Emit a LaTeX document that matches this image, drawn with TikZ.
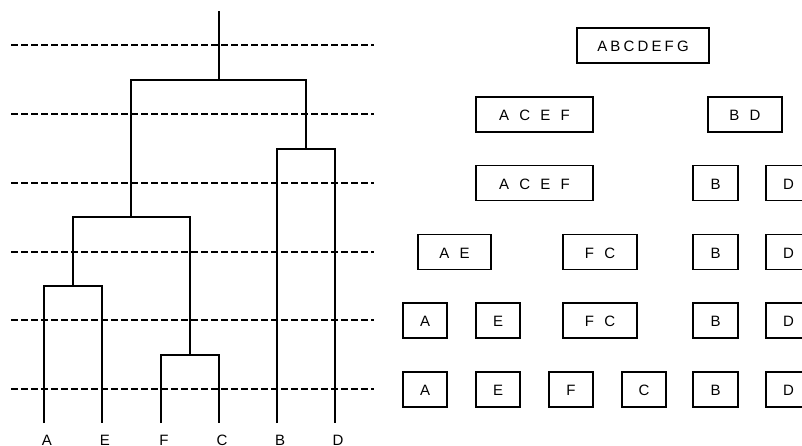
\documentclass[tikz,border=0pt]{standalone}
\usepackage{fontspec}
\setmainfont{Liberation Sans}
\newfontfamily\spacedfont[LetterSpace=21,WordSpace=1.4]{Liberation Sans}
\begin{document}
\begin{tikzpicture}[x=1pt,y=-1pt,
  level/.style={line width=1.5pt,dash pattern=on 7pt off 3pt},
  branch/.style={line width=1.4pt,line join=miter},
  cluster/.style={draw,line width=1.3pt,minimum height=35pt,inner sep=0pt,
    font=\spacedfont\fontsize{15}{18}\selectfont,text height=12.9pt,text depth=0pt},
  leaf/.style={anchor=base,font=\spacedfont\fontsize{15}{18}\selectfont,inner sep=0pt}]
\useasboundingbox (0,0) rectangle (802,446);

% cut levels
\foreach \yy in {45,114,183,252,320,389}
  \draw[level] (11,\yy) -- (374,\yy);

% dendrogram: leaves and merge points
\coordinate (a) at (44,423);
\coordinate (e) at (102,423);
\coordinate (f) at (161,423);
\coordinate (c) at (219,423);
\coordinate (b) at (277,423);
\coordinate (d) at (335,423);
\coordinate (ae) at (73,286);
\coordinate (fc) at (190,355);
\coordinate (bd) at (306,149);
\coordinate (acef) at (131,217);
\coordinate (all) at (219,80);
\coordinate (top) at (219,11);

\draw[branch] (a) |- (ae) -| (e);
\draw[branch] (f) |- (fc) -| (c);
\draw[branch] (b) |- (bd) -| (d);
\draw[branch] (ae) |- (acef) -| (fc);
\draw[branch] (acef) |- (all) -| (bd);
\draw[branch] (all) -- (top);

% leaf labels
\node[leaf] (la) at (47,445) {A};
\node[leaf] (le) at (105,445) {E};
\node[leaf] (lf) at (164,445) {F};
\node[leaf] (lc) at (222,445) {C};
\node[leaf] (lb) at (280,445) {B};
\node[leaf] (ld) at (338,445) {D};

% clusters at each level
\node[cluster,minimum width=132pt] (r1) at (643,45.5) {ABCDEFG};

\node[cluster,minimum width=117pt] (r2a) at (534.5,114.5) {A C E F};
\node[cluster,minimum width=74pt] (r2b) at (745,114.5) {B D};

\node[cluster,minimum width=117pt] (r3a) at (534.5,183) {A C E F};
\node[cluster,minimum width=45pt] (r3b) at (715.5,183) {B};
\node[cluster,minimum width=45pt] (r3d) at (788.5,183) {D};

\node[cluster,minimum width=73pt] (r4ae) at (454.5,252) {A E};
\node[cluster,minimum width=74pt] (r4fc) at (600,252) {F C};
\node[cluster,minimum width=45pt] (r4b) at (715.5,252) {B};
\node[cluster,minimum width=45pt] (r4d) at (788.5,252) {D};

\node[cluster,minimum width=44pt] (r5a) at (425,320.5) {A};
\node[cluster,minimum width=44pt] (r5e) at (498,320.5) {E};
\node[cluster,minimum width=74pt] (r5fc) at (600,320.5) {F C};
\node[cluster,minimum width=45pt] (r5b) at (715.5,320.5) {B};
\node[cluster,minimum width=45pt] (r5d) at (788.5,320.5) {D};

\node[cluster,minimum width=44pt] (r6a) at (425,389.5) {A};
\node[cluster,minimum width=44pt] (r6e) at (498,389.5) {E};
\node[cluster,minimum width=44pt] (r6f) at (571,389.5) {F};
\node[cluster,minimum width=44pt] (r6c) at (644,389.5) {C};
\node[cluster,minimum width=45pt] (r6b) at (715.5,389.5) {B};
\node[cluster,minimum width=45pt] (r6d) at (788.5,389.5) {D};
\end{tikzpicture}
\end{document}
